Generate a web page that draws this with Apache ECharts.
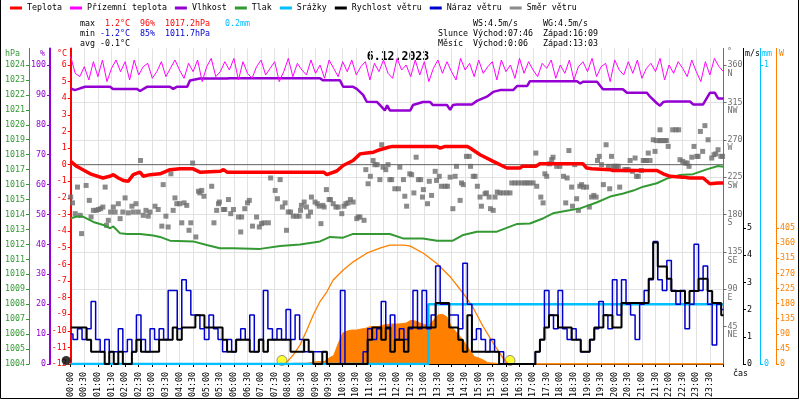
<!DOCTYPE html>
<html><head><meta charset="utf-8">
<script src="https://cdn.jsdelivr.net/npm/echarts@6/dist/echarts.min.js"></script>
<style>html,body{margin:0;padding:0;background:#fff}#c{width:800px;height:400px}</style>
</head><body><div id="c"></div>
<script>
// ---------- DATA (time in minutes after midnight) ----------
const legendNames = ['Teplota','Přízemní teplota','Vlhkost','Tlak','Srážky','Rychlost větru','Náraz větru','Směr větru'];

const tempPts = [[0,0.2],[13,-0.1],[43,-0.55],[71,-0.8],[86,-0.7],[94,-0.6],[105,-0.8],[116,-0.95],[127,-1.0],[138,-0.6],[153,-0.45],[160,-0.7],[175,-0.6],[197,-0.55],[219,-0.3],[241,-0.25],[270,-0.25],[285,-0.45],[330,-0.4],[337,-0.3],[345,-0.45],[400,-0.45],[500,-0.45],[558,-0.45],[565,-0.6],[587,-0.38],[601,-0.05],[623,0.25],[638,0.65],[653,0.7],[668,0.75],[682,0.9],[701,1.05],[710,1.1],[780,1.1],[807,1.1],[815,1.0],[826,1.1],[874,1.1],[881,1.0],[903,0.6],[932,0.2],[962,-0.2],[991,-0.2],[996,-0.1],[1026,-0.1],[1035,0.05],[1130,0.05],[1138,-0.2],[1150,-0.25],[1190,-0.3],[1196,-0.35],[1293,-0.35],[1307,-0.55],[1322,-0.7],[1350,-0.75],[1366,-0.8],[1395,-0.8],[1410,-1.15],[1428,-1.1],[1440,-1.1]];

// 10-minute slots 0..1440
const groundTemp = [6.5,5.5,5.3,5.9,5.1,6.2,5.3,6.3,5.0,5.8,
 6.3,5.6,6.2,5.1,6.3,5.4,5.9,6.1,5.2,5.6,
 6.2,5.3,5.8,6.3,5.7,5.2,6.1,5.6,6.3,5.0,
 5.9,6.4,5.3,5.6,6.2,5.7,6.4,5.1,6.2,5.5,
 5.2,5.9,6.3,5.4,5.8,6.2,5.0,5.6,6.4,5.3,
 6.1,5.7,5.4,6.3,5.5,6.0,5.2,6.3,5.8,5.3,
 6.2,5.6,6.3,5.4,5.9,6.2,5.1,6.1,5.6,6.3,
 5.5,5.2,6.4,5.7,6.0,5.3,6.3,5.4,6.2,5.0,
 5.8,6.3,5.5,6.2,5.6,5.1,6.4,5.7,6.1,5.3,
 6.3,5.5,5.9,6.2,5.1,6.3,5.6,6.0,5.2,6.4,
 5.5,6.2,5.7,5.3,6.1,5.8,6.3,5.2,6.0,5.5,
 6.3,5.1,5.9,6.2,5.6,6.4,5.3,5.9,6.1,5.0,
 6.3,5.7,5.4,6.2,5.5,6.3,5.2,5.8,6.1,5.6,
 6.4,5.1,6.0,5.5,6.2,5.8,5.3,6.3,5.6,5.0,
 6.2,5.4,6.4,5.9,5.6];

const humidityPts = [[0,92.2],[9,91.6],[21,92.2],[32,92.7],[87,92.7],[93,92.0],[146,92.0],[153,91.3],[168,92.7],[219,92.7],[226,92.0],[234,92.7],[257,92.7],[263,94.8],[285,95.5],[345,95.5],[351,95.6],[550,95.6],[556,94.9],[594,94.9],[601,92.7],[623,92.7],[631,92.0],[645,90.0],[653,87.7],[676,87.6],[686,86.0],[693,84.8],[698,86.5],[704,84.8],[749,84.8],[755,86.6],[777,87.6],[793,87.6],[799,86.6],[830,86.6],[837,85.0],[843,86.6],[852,86.8],[885,86.8],[896,88.0],[918,89.4],[932,91.0],[947,91.6],[976,91.6],[985,93.0],[1007,93.0],[1013,94.6],[1117,94.6],[1124,93.8],[1130,94.4],[1161,94.4],[1174,91.9],[1218,91.9],[1227,90.7],[1271,90.7],[1278,89.4],[1293,87.2],[1300,86.4],[1307,87.6],[1315,87.8],[1366,87.8],[1373,86.8],[1395,86.8],[1410,90.7],[1421,90.7],[1428,88.8],[1440,88.8]];

const pressurePts = [[0,1013.75],[14,1013.86],[27,1013.86],[50,1013.5],[72,1013.3],[87,1013.08],[94,1013.2],[109,1012.74],[124,1012.7],[153,1012.7],[182,1012.6],[197,1012.5],[219,1012.25],[270,1012.2],[300,1011.96],[329,1011.74],[358,1011.74],[418,1011.7],[462,1011.9],[506,1012.0],[550,1012.2],[572,1012.5],[601,1012.45],[623,1012.7],[704,1012.7],[733,1012.4],[777,1012.4],[808,1012.25],[843,1012.25],[866,1012.63],[896,1012.85],[940,1012.85],[985,1013.37],[1013,1013.4],[1043,1013.75],[1064,1014.08],[1094,1014.25],[1124,1014.41],[1160,1014.8],[1190,1015.2],[1219,1015.4],[1241,1015.6],[1263,1015.86],[1293,1016.09],[1315,1016.4],[1344,1016.64],[1373,1016.7],[1403,1017.02],[1428,1017.24],[1440,1017.2]];

const rainPts = [[0,0],[789,0],[789,0.2],[1440,0.2]];

// 10-minute slots 0..1440 (m/s)
const windSpeed = [1.34,1.34,1.34,1.34,0.89,0.45,0.45,0.45,0,0.45,
 0,0.45,0,0,0.45,0.89,0.45,0.45,0.45,0.45,
 0.89,0.89,0.89,1.34,0.89,1.34,1.34,1.34,1.79,1.79,
 1.34,1.34,1.34,1.34,0.89,0.45,0.45,0.89,0.89,0.89,
 0.45,0.45,0.89,0.45,0.89,0.89,0.89,0.89,0.89,0.45,
 0.45,0.45,0.89,0.45,0,0,0.45,0,0,0,
 0,0,0,0,0,0,0.89,1.34,1.34,0.89,
 1.34,0.45,0.89,0.89,0.45,1.34,1.34,1.34,1.34,1.34,
 1.34,2.24,2.24,2.24,1.34,1.34,0.89,0.45,1.79,0.45,
 0.45,0.45,0.45,0.45,0.45,0,0,0,0,0,
 0,0,0,0.45,0.89,1.34,1.79,1.79,1.34,1.34,
 1.34,0.89,0.89,0.45,0.45,0.89,1.34,1.34,1.79,1.79,
 1.34,1.34,2.24,2.24,2.24,2.24,2.24,2.24,3.13,4.47,
 3.58,3.58,3.13,2.68,2.68,2.68,2.24,2.68,2.68,3.13,
 3.13,2.68,2.24,2.24,1.79];

const windGust = [1.1,0.9,1.3,0.9,1.3,2.3,0.9,0.45,0.9,0.45,
 0.45,1.3,0.45,0.9,0.45,1.8,0.9,0.45,1.3,0.9,
 1.3,0.9,2.7,2.7,1.3,3.1,2.7,1.8,1.8,1.3,
 0.9,1.8,1.3,0.9,0.45,0.9,0.45,0.9,1.3,0.9,
 1.8,0.45,0.9,2.7,1.3,0.9,1.3,0.9,2.0,0.9,
 1.8,0.9,0.45,0.45,0.45,0.45,0.45,0,0,0,
 2.7,0,0,0,0,0.45,1.3,0.9,1.3,2.3,
 1.3,1.8,0.9,1.3,0.9,1.3,2.7,1.3,2.7,1.3,
 1.8,3.6,2.2,2.2,1.8,1.8,1.3,3.7,2.2,0.9,
 1.3,0.9,0.45,0.9,0.45,0.45,0,0,0,0,
 0,0,0,0.45,0.9,2.7,1.8,1.3,2.7,1.3,
 0.9,1.3,0.9,0.45,0.45,0.9,1.3,2.3,1.8,1.3,
 3.1,1.8,3.1,2.2,1.8,0.9,2.2,2.7,3.1,4.5,
 3.1,2.7,3.8,2.7,2.2,2.7,1.3,2.2,4.4,2.7,
 3.6,2.2,0.7,2.2,2.0];

const windDirPts = [[0,201],[4,194],[10,181],[15,213],[21,179],[24,157],[34,215],[41,197],[45,177],[50,185],[56,185],[61,186],[66,187],[71,189],[76,213],[79,167],[83,173],[88,183],[94,189],[98,183],[105,193],[109,175],[115,183],[120,200],[127,182],[135,190],[138,183],[144,193],[149,183],[154,245],[160,179],[166,185],[171,178],[175,183],[186,190],[193,186],[201,166],[204,216],[210,178],[215,165],[221,229],[226,185],[230,200],[234,193],[240,193],[245,170],[250,194],[256,191],[261,161],[265,170],[269,242],[276,153],[282,208],[285,206],[289,209],[294,202],[311,214],[316,170],[322,185],[326,193],[328,195],[337,186],[340,186],[348,198],[353,181],[359,186],[370,177],[375,159],[377,177],[384,187],[390,194],[394,197],[401,166],[410,177],[416,165],[421,169],[426,170],[436,170],[441,224],[451,209],[456,199],[462,222],[467,189],[473,194],[476,161],[480,183],[485,183],[491,178],[498,178],[504,178],[507,185],[509,191],[515,195],[520,189],[524,178],[529,183],[531,201],[539,195],[544,193],[548,190],[552,169],[556,191],[559,189],[564,210],[570,198],[573,198],[579,193],[585,189],[590,189],[598,181],[603,190],[607,193],[612,194],[617,198],[623,195],[631,175],[634,177],[638,177],[647,173],[651,234],[656,217],[661,226],[667,245],[671,240],[676,240],[682,222],[686,264],[689,237],[695,234],[700,240],[704,222],
[708,222],[715,211],[723,211],[726,237],[734,222],[737,202],[741,190],[748,229],[752,228],[757,206],[762,249],[767,222],[772,222],[776,201],[778,210],[787,193],[791,220],[796,203],[804,232],[807,221],[813,226],[818,214],[826,214],[831,214],[837,225],[843,187],[848,226],[851,238],[859,197],[862,218],[866,216],[873,250],[879,250],[882,238],[888,226],[892,226],[897,214],[903,201],[906,190],[914,205],[917,206],[923,201],[926,187],[932,185],[936,201],[941,207],[947,206],[954,206],[962,206],[969,206],[973,218],[980,218],[987,218],[995,218],[1002,218],[1007,218],[1013,218],[1020,218],[1026,254],[1028,214],[1037,201],[1042,194],[1046,229],[1050,226],[1056,241],[1061,246],[1064,249],[1072,238],[1079,238],[1087,226],[1092,194],[1095,224],[1099,257],[1105,213],[1107,190],[1112,240],[1116,199],[1120,185],[1123,214],[1127,216],[1131,213],[1138,213],[1144,189],[1149,201],[1154,203],[1159,201],[1162,245],[1166,250],[1171,240],[1175,216],[1181,264],[1186,238],[1189,211],[1193,250],[1197,238],[1200,238],[1204,238],[1208,238],[1211,213],[1222,234],[1226,234],[1230,234],[1234,245],[1239,232],[1245,248],[1248,226],[1252,226],[1259,233],[1263,245],[1267,245],[1270,245],[1274,254],[1278,245],[1285,270],[1289,256],[1292,269],[1300,269],[1300,282],[1303,269],[1311,269],[1314,269],[1318,262],[1328,282],[1335,282],[1341,282],[1344,246],[1350,244],[1355,242],[1360,242],[1364,238],[1370,249],[1375,262],[1381,250],[1384,250],[1389,280],[1394,256],[1399,287],[1406,270],[1414,248],[1419,252],[1423,253],[1428,258],[1434,250],[1438,250]];

const solarPts = [[0,0],[480,0],[490,2],[500,2],[510,2],[520,2],[530,4],[540,7],[550,7],[560,8],[570,18],[580,25],[590,60],[600,92],[610,98],[620,101],[630,101],[640,104],[650,106],[660,111],[670,111],[680,112],[690,116],[700,118],[710,119],[720,119],[730,120],[740,122],[750,130],[760,128],[770,122],[780,118],[790,115],[800,130],[810,146],[820,148],[830,140],[840,111],[850,96],[860,80],[870,62],[880,42],[890,22],[900,18],[910,12],[920,4],[930,3],[940,2],[950,0],[1440,0]];

const solarMaxPts = [[0,0],[473,0],[491,27],[506,57],[521,101],[535,146],[550,186],[565,215],[579,250],[601,280],[624,305],[653,330],[682,345],[704,354],[734,354],[748,352],[778,330],[807,300],[837,260],[866,210],[888,167],[910,111],[932,62],[954,17],[965,0],[1440,0]];

const sunPts = [[466,0.13],[969,0.13]];
const moonPts = [[-10,0.13],[800,0.13]];
const zeroLine = [[0,0],[1440,0]];

// axis tick labels
const cTicks = [-12,-11,-10,-9,-8,-7,-6,-5,-4,-3,-2,-1,0,1,2,3,4,5,6];
const pctTicks = [0,10,20,30,40,50,60,70,80,90,100];
const hpaTicks = [1004,1005,1006,1007,1008,1009,1010,1011,1012,1013,1014,1015,1016,1017,1018,1019,1020,1021,1022,1023,1024];
const dirTicks = [45,90,135,180,225,270,315,360];
const dirNames = ['NE','E','SE','S','SW','W','NW','N'];
const msTicks = [0,1,2,3,4,5];
const mmTicks = [0,1];
const wTicks = [0,45,90,135,180,225,270,315,360,405];

// ---------- STYLE ----------
const FONT = 'DejaVu Sans Mono';
const FS = 8.3;
const RED='#ff0000', MAG='#ff00ff', PUR='#9400d3', GRN='#339933', CYAN='#00bfff',
      BLK='#000000', BLU='#0000cd', GRY='#6e6e6e', ORG='#ff8000', GRID='#e2e2e2';

const slots = groundTemp.map((_, i) => i * 10);
const pair = arr => arr.map((v, i) => [slots[i], v]);
const plain = v => String(v);

function yAx(o) {
  return {
    type: 'value', position: o.pos, offset: o.offset, min: o.min, max: o.max,
    interval: o.interval,
    axisLine: { show: true, onZero: false, lineStyle: { color: o.color, width: o.lw || 1 } },
    axisTick: { show: true, length: 3, customValues: o.ticks, lineStyle: { color: o.color } },
    axisLabel: { customValues: o.ticks, color: o.color, fontFamily: FONT, fontSize: FS, margin: 4,
                 formatter: o.fmt || plain, lineHeight: o.lh },
    splitLine: o.split ? { show: true, showMinLine: false, showMaxLine: false, lineStyle: { color: GRID, width: 1 } } : { show: false }
  };
}

const hhmm = v => v >= 1440 ? '' : String(Math.floor(v / 60)).padStart(2, '0') + ':' + String(v % 60).padStart(2, '0');

function txt(x, y, s, color, extra) {
  return Object.assign({ type: 'text', x: x, y: y, silent: true,
    style: { text: s, fill: color, font: FS + 'px "' + FONT + '"', verticalAlign: 'middle', align: 'left' } }, extra || {});
}

const chart = echarts.init(document.getElementById('c'), null, { renderer: 'canvas' });
const line = (name, data, yi, color, w, extra) => Object.assign({
  name, type: 'line', data, yAxisIndex: yi, showSymbol: false, symbol: 'none', silent: true,
  lineStyle: { color, width: w }, itemStyle: { color }
}, extra || {});

chart.setOption({
  animation: false,
  backgroundColor: '#fff',
  textStyle: { fontFamily: FONT },
  grid: { left: 70.7, right: 76.5, top: 48.4, bottom: 36, containLabel: false },
  legend: {
    data: legendNames, left: 10, top: 4, padding: 0, itemWidth: 12, itemHeight: 3, itemGap: 8,
    icon: 'rect', selectedMode: false,
    textStyle: { fontFamily: FONT, fontSize: FS, color: '#000' }
  },
  xAxis: {
    type: 'value', min: 0, max: 1440, interval: 30,
    axisLine: { show: true, onZero: false, lineStyle: { color: '#000', width: 1 } },
    axisTick: { show: true, length: 3, lineStyle: { color: '#000' } },
    axisLabel: { rotate: 90, margin: 8, fontFamily: FONT, fontSize: FS, color: '#000', formatter: hhmm },
    splitLine: { show: true, lineStyle: { color: GRID, width: 1 } }
  },
  yAxis: [
    yAx({ pos: 'left', offset: 0, min: -12, max: 7, color: RED, lw: 2, ticks: cTicks }),
    yAx({ pos: 'left', offset: 20.7, min: 0, max: 105.55, color: PUR, lw: 2, ticks: pctTicks }),
    yAx({ pos: 'left', offset: 41.7, min: 1004, max: 1025.11, color: GRN, lw: 1, ticks: hpaTicks }),
    yAx({ pos: 'right', offset: 0, min: 0, max: 380, interval: 45, color: GRY, lw: 1, ticks: dirTicks, split: true, lh: 8.5,
          fmt: v => ' \n' + v + '\n' + dirNames[dirTicks.indexOf(v)] }),
    yAx({ pos: 'right', offset: 19.5, min: 0, max: 11.6, color: BLK, lw: 1, ticks: msTicks }),
    yAx({ pos: 'right', offset: 36.5, min: 0, max: 1.0555, color: CYAN, lw: 1, ticks: mmTicks }),
    yAx({ pos: 'right', offset: 52.5, min: 0, max: 940, color: ORG, lw: 1, ticks: wTicks })
  ],
  series: [
    line('zero', zeroLine, 0, '#606060', 1),
    line('Sluneční záření', solarPts, 6, ORG, 1, { areaStyle: { color: ORG, opacity: 1 } }),
    line('Max. záření', solarMaxPts, 6, ORG, 1.3),
    line('Tlak', pressurePts, 2, GRN, 2),
    line('Vlhkost', humidityPts, 1, PUR, 2.5),
    line('Přízemní teplota', pair(groundTemp), 0, MAG, 1),
    { name: 'Směr větru', type: 'scatter', yAxisIndex: 3, data: windDirPts, symbol: 'rect', symbolSize: 5,
      itemStyle: { color: GRY }, silent: true },
    line('Teplota', tempPts, 0, RED, 3.5),
    line('Srážky', rainPts, 5, CYAN, 2.5),
    line('Náraz větru', pair(windGust), 4, BLU, 1.5, { step: 'middle' }),
    line('Rychlost větru', pair(windSpeed), 4, BLK, 2, { step: 'middle' }),
    { name: 'Slunce', type: 'scatter', yAxisIndex: 4, data: sunPts, symbol: 'circle', symbolSize: 10, clip: false,
      itemStyle: { color: '#ffff00', borderColor: '#777', borderWidth: 1 }, silent: true },
    { name: 'Měsíc', type: 'scatter', yAxisIndex: 4, data: moonPts, symbol: 'circle', symbolSize: 9, clip: false,
      itemStyle: { color: '#000' }, silent: true }
  ],
  graphic: [
    { type: 'polyline', silent: true, shape: { points: [[0.5, 0], [0.5, 398.5], [798.5, 398.5], [798.5, 0]] },
      style: { stroke: '#000', lineWidth: 1, fill: null } },
    txt(80, 24, 'max', '#000'), txt(105, 24, '1.2°C', RED), txt(140, 24, '96%', RED),
    txt(165, 24, '1017.2hPa', RED), txt(225, 24, '0.2mm', CYAN),
    txt(80, 34, 'min', '#000'), txt(100, 34, '-1.2°C', BLU), txt(140, 34, '85%', BLU), txt(165, 34, '1011.7hPa', BLU),
    txt(80, 44, 'avg -0.1°C', '#000'),
    txt(473, 24, 'WS:4.5m/s', '#000'), txt(543, 24, 'WG:4.5m/s', '#000'),
    txt(438, 34, 'Slunce', '#000'), txt(473, 34, 'Východ:07:46', '#000'), txt(543, 34, 'Západ:16:09', '#000'),
    txt(438, 44, 'Měsíc', '#000'), txt(473, 44, 'Východ:0:06', '#000'), txt(543, 44, 'Západ:13:03', '#000'),
    { type: 'text', x: 398, y: 57, silent: true,
      style: { text: '6.12.2023', fill: '#000', font: 'bold 11.5px "' + FONT + '"', align: 'center', verticalAlign: 'middle' } },
    txt(5, 54, 'hPa', GRN), txt(40, 54, '%', PUR), txt(57, 54, '°C', RED),
    txt(727, 52, '°', GRY), txt(745, 54, 'm/s', BLK), txt(762, 54, 'mm', CYAN), txt(779, 54, 'W', ORG),
    txt(733, 374, 'čas', '#000')
  ]
});
</script>
</body></html>
